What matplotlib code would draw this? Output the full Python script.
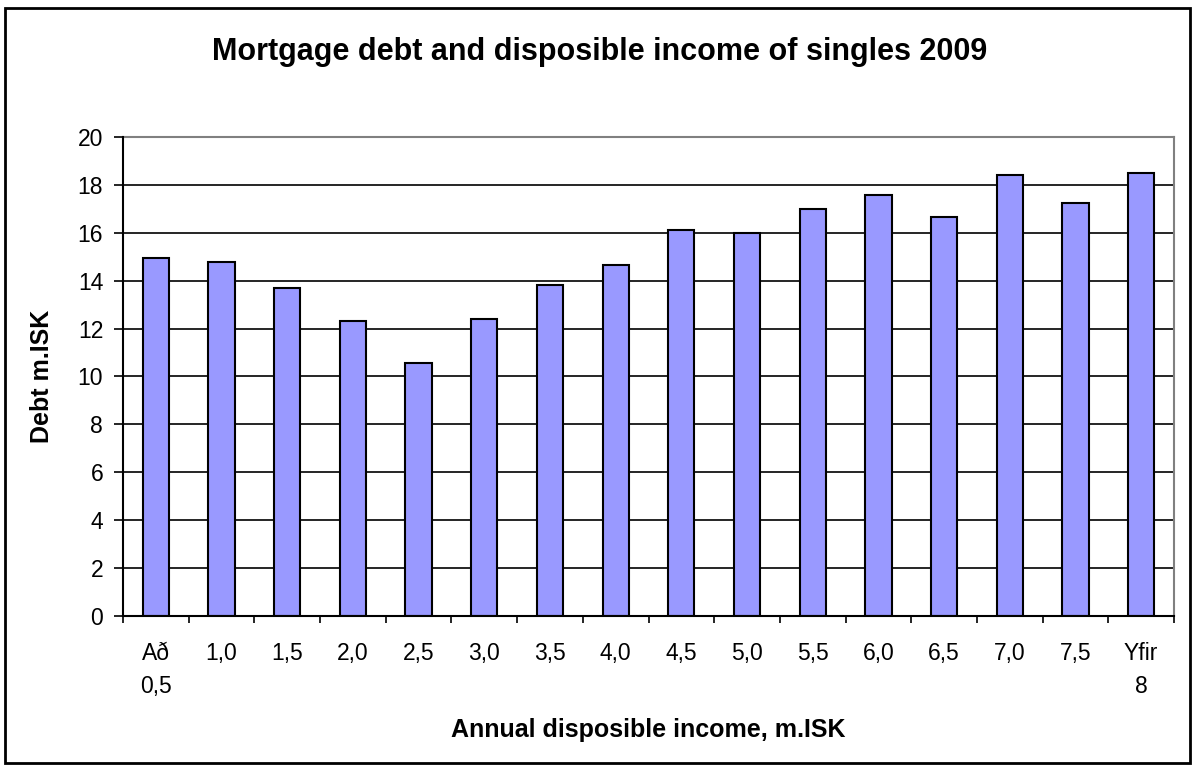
import numpy as np
import matplotlib.pyplot as plt
from matplotlib.patches import Rectangle

plt.rcParams["font.family"] = ["Liberation Sans", "DejaVu Sans"]

# income brackets (m.ISK) and average mortgage debt (m.ISK)
brackets = ["Að\n0,5", "1,0", "1,5", "2,0", "2,5", "3,0", "3,5", "4,0",
            "4,5", "5,0", "5,5", "6,0", "6,5", "7,0", "7,5", "Yfir\n8"]
debt = [14.95, 14.8, 13.7, 12.33, 10.57, 12.4, 13.8, 14.65,
        16.1, 16.0, 17.0, 17.58, 16.67, 18.41, 17.25, 18.5]
yticks = np.arange(0, 21, 2)

W, H = 1192, 767
fig = plt.figure(figsize=(W / 100, H / 100), dpi=100)

# outer chart frame
fig.patches.append(Rectangle((5 / W, 1 - 763 / H), 1185 / W, 755 / H,
                             transform=fig.transFigure, fill=False,
                             edgecolor="black", linewidth=2))

ax = fig.add_axes([123 / W, 1 - 616 / H, 1051 / W, 479 / H])
x = np.arange(len(debt))
ax.bar(x, debt, width=0.4, color="#9999FF", edgecolor="black",
       linewidth=1.5, zorder=3)

ax.set_xlim(-0.5, len(debt) - 0.5)
ax.set_ylim(0, 20)
ax.set_yticks(yticks)
ax.tick_params(axis="y", labelsize=16.5, length=6.3, width=1.2, pad=8)
ax.yaxis.grid(True, color="black", linewidth=1.2, zorder=0)

# category labels centred, tick marks on category boundaries
ax.set_xticks(x)
ax.set_xticklabels(brackets, fontsize=16.5, linespacing=1.55)
ax.tick_params(axis="x", length=0, pad=18.5)
ax.set_xticks(np.arange(-0.5, len(debt)), minor=True)
ax.tick_params(axis="x", which="minor", length=5, width=1.2, direction="out")

for side in ["top", "right"]:
    ax.spines[side].set_color("#808080")
    ax.spines[side].set_linewidth(1.5)
for side in ["left", "bottom"]:
    ax.spines[side].set_linewidth(1.5)
    ax.spines[side].set_zorder(4)

fig.text(600 / W, 1 - 52 / H, "Mortgage debt and disposible income of singles 2009",
         ha="center", va="center", fontsize=22, fontweight="bold")
fig.text(648 / W, 1 - 730 / H, "Annual disposible income, m.ISK",
         ha="center", va="center", fontsize=18, fontweight="bold")
fig.text(42 / W, 1 - 376 / H, "Debt m.ISK", ha="center", va="center",
         rotation=90, fontsize=18, fontweight="bold")

fig.savefig("out.png", dpi=100)
